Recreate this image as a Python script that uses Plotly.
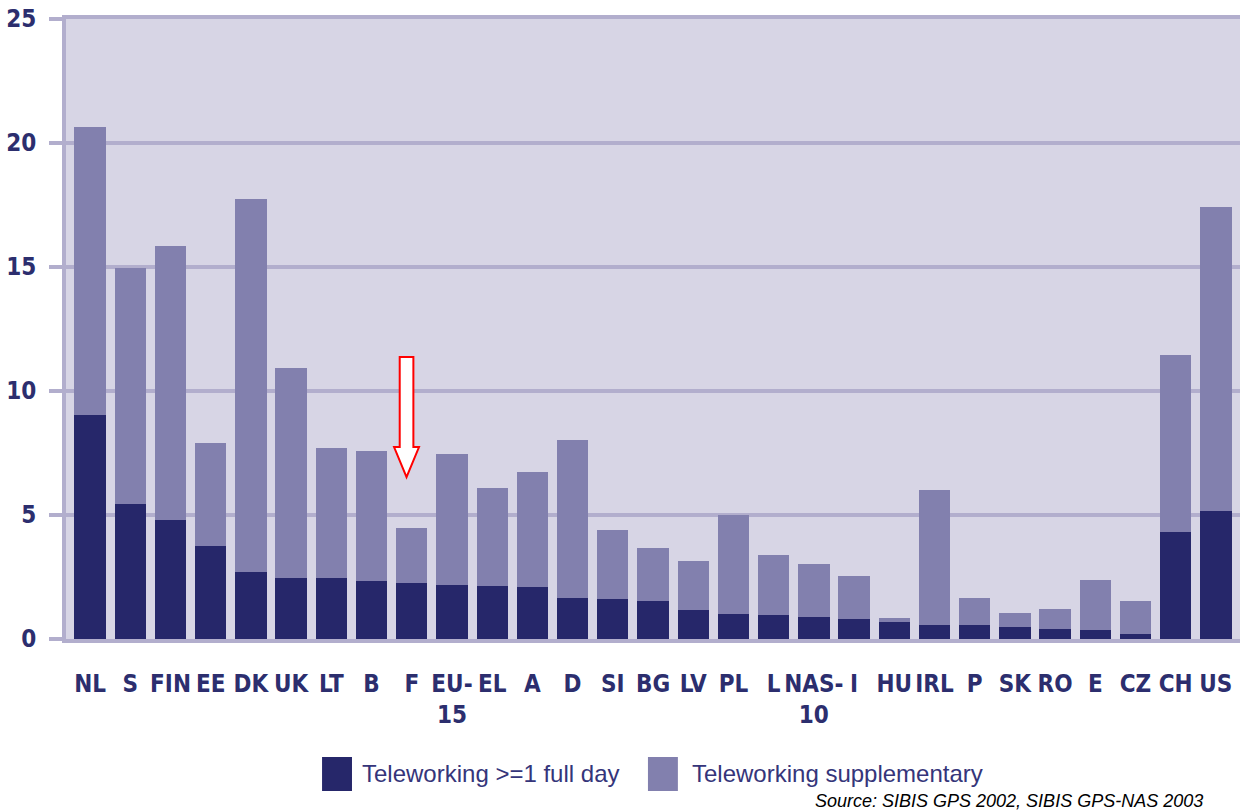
import plotly.graph_objects as go

countries = ["NL", "S", "FIN", "EE", "DK", "UK", "LT", "B", "F", "EU-<br>15", "EL", "A", "D",
             "SI", "BG", "LV", "PL", "L", "NAS-<br>10", "I", "HU", "IRL", "P", "SK", "RO", "E",
             "CZ", "CH", "US"]
full_day = [9.04, 5.43, 4.80, 3.75, 2.72, 2.48, 2.44, 2.32, 2.24, 2.17, 2.14, 2.08, 1.66,
            1.62, 1.54, 1.17, 1.00, 0.96, 0.90, 0.80, 0.67, 0.56, 0.56, 0.48, 0.41, 0.37,
            0.21, 4.31, 5.16]
supplementary = [11.59, 9.51, 11.04, 4.16, 15.03, 8.46, 5.26, 5.28, 2.25, 5.29, 3.93, 4.65, 6.35,
                 2.79, 2.13, 1.96, 4.02, 2.43, 2.14, 1.74, 0.17, 5.46, 1.10, 0.55, 0.78, 2.00,
                 1.31, 7.14, 12.24]
y_ticks = [0, 5, 10, 15, 20, 25]

DARK = "#26276a"
LIGHT = "#8280ae"
GRID = "#b2aecd"
BG = "#d7d5e5"
TXT = "#2c2e6e"
FONT = "DejaVu Sans Condensed, DejaVu Sans, sans-serif"
LEG_FONT = "Liberation Sans, Arial, sans-serif"

fig = go.Figure()
fig.add_trace(go.Bar(x=list(range(len(countries))), y=full_day, marker=dict(color=DARK, line=dict(width=0)),
                     name="Teleworking >=1 full day"))
fig.add_trace(go.Bar(x=list(range(len(countries))), y=supplementary, marker=dict(color=LIGHT, line=dict(width=0)),
                     name="Teleworking supplementary"))

# red hollow arrow pointing at F
ax, top, base, tip = 7.87, 11.37, 7.74, 6.53
sw, hw = 0.17, 0.31
arrow = (f"M {ax-sw},{top} L {ax+sw},{top} L {ax+sw},{base} L {ax+hw},{base} "
         f"L {ax},{tip} L {ax-hw},{base} L {ax-sw},{base} Z")
fig.add_shape(type="path", path=arrow, xref="x", yref="y", fillcolor="white",
              line=dict(color="#ff0000", width=2))

# legend drawn manually (bigger swatches than plotly's)
legend_items = [("Teleworking >=1 full day", DARK, 0.2181, 0.2504),
                ("Teleworking supplementary", LIGHT, 0.4957, 0.5315)]
for label, col, x0, xt in legend_items:
    fig.add_shape(type="rect", xref="paper", yref="paper", x0=x0, x1=x0 + 0.0255,
                  y0=-0.2452, y1=-0.1903, fillcolor=col, line=dict(width=0))
    fig.add_annotation(text=label, xref="paper", yref="paper", x=xt, y=-0.2177,
                       xanchor="left", yanchor="middle", showarrow=False,
                       font=dict(family=LEG_FONT, size=24, color="#35357a"))

fig.add_annotation(text="<i>Source: SIBIS GPS 2002, SIBIS GPS-NAS 2003</i>", xref="paper", yref="paper",
                   x=0.9702, y=-0.2605, xanchor="right", yanchor="middle", showarrow=False,
                   font=dict(family=LEG_FONT, size=18, color="black"))

fig.update_xaxes(
    tickmode="array", tickvals=list(range(len(countries))), ticktext=countries,
    range=[-0.6, len(countries) - 0.4], tickangle=0, automargin=False,
    showgrid=False, showline=True, linecolor=GRID, linewidth=4, mirror=True,
    ticks="", ticklabelstandoff=20,
    tickfont=dict(family=FONT, size=24, color=TXT, weight="bold"),
)
fig.update_yaxes(
    range=[0, 25], tickvals=y_ticks, showgrid=True, gridcolor=GRID, gridwidth=4,
    zeroline=False, showline=True, linecolor=GRID, linewidth=4, automargin=False,
    ticks="outside", ticklen=13, tickwidth=4, tickcolor=GRID,
    ticklabeloverflow="allow", ticklabelstandoff=8,
    tickfont=dict(family=FONT, size=24, color=TXT, weight="bold"),
)
fig.update_layout(
    barmode="stack", bargap=0.22, showlegend=False,
    width=1247, height=811,
    plot_bgcolor=BG, paper_bgcolor="white",
    margin=dict(l=66, r=7, t=19, b=172),
)
# drop the browser's default 8px body margin so the figure sits at the page origin
fig.write_html("out.html", config={"displayModeBar": False},
               post_script="document.body.style.margin='0';document.body.style.overflow='hidden';")
